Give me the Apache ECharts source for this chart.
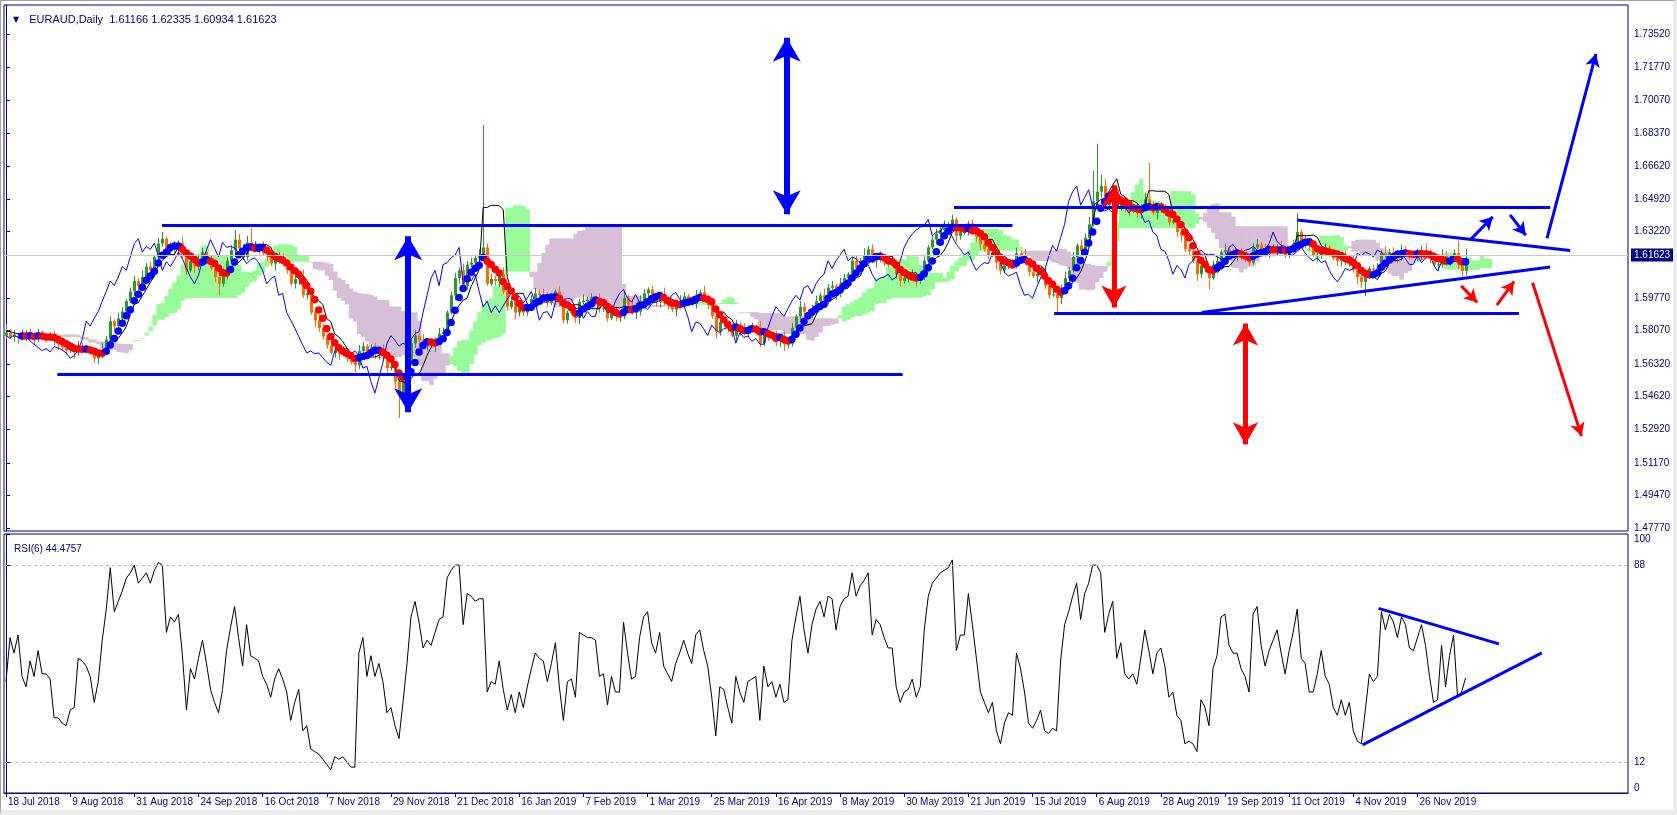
<!DOCTYPE html>
<html>
<head>
<meta charset="utf-8">
<script src="https://cdn.jsdelivr.net/npm/echarts@6/dist/echarts.min.js"></script>
<style>
html,body{margin:0;padding:0;background:#ffffff;}
#chart{width:1677px;height:815px;}
#frame{position:absolute;left:0;top:0;width:1672px;height:809px;border-left:1px solid #a0a0a0;border-top:1px solid #a0a0a0;border-right:4px solid #ececec;border-bottom:5px solid #ececec;pointer-events:none;}
</style>
</head>
<body>
<div id="chart"></div>
<div id="frame"></div>
<script>
// ---------------- DATA ----------------
const symbolName = 'EURAUD,Daily';
const headerOHLC = ['1.61166', '1.62335', '1.60934', '1.61623'];
const lastPrice = 1.61623;
const rsiTitle = 'RSI(6) 44.4757';

const dateTickLabels = ['18 Jul 2018','9 Aug 2018','31 Aug 2018','24 Sep 2018','16 Oct 2018','7 Nov 2018','29 Nov 2018','21 Dec 2018','16 Jan 2019','7 Feb 2019','1 Mar 2019','25 Mar 2019','16 Apr 2019','8 May 2019','30 May 2019','21 Jun 2019','15 Jul 2019','6 Aug 2019','28 Aug 2019','19 Sep 2019','11 Oct 2019','4 Nov 2019','26 Nov 2019'];
const dateTickStep = 16;
const priceTickValues = [1.73520,1.71770,1.70070,1.68370,1.66620,1.64920,1.63220,1.59770,1.58070,1.56320,1.54620,1.52920,1.51170,1.49470,1.47770];
const rsiTickValues = [0, 12, 88, 100];
const rsiLevels = [12, 88];

const opens = [
1.5780,1.5795,1.5772,1.5781,1.5768,1.5775,1.5790,1.5779,1.5766,1.5784,
1.5771,1.5763,1.5778,1.5752,1.5735,1.5718,1.5702,1.5712,1.5695,1.5722,
1.5715,1.5705,1.5690,1.5662,1.5675,1.5705,1.5760,1.5855,1.5830,1.5870,
1.5905,1.5960,1.6010,1.6065,1.6040,1.6085,1.6140,1.6120,1.6190,1.6260,
1.6285,1.6215,1.6245,1.6230,1.6262,1.6195,1.6120,1.6165,1.6140,1.6175,
1.6215,1.6180,1.6130,1.6085,1.6050,1.6095,1.6170,1.6225,1.6280,1.6235,
1.6190,1.6265,1.6240,1.6245,1.6238,1.6210,1.6190,1.6155,1.6175,1.6185,
1.6160,1.6120,1.6050,1.6075,1.6090,1.5990,1.6000,1.5900,1.5860,1.5820,
1.5775,1.5730,1.5690,1.5700,1.5685,1.5690,1.5665,1.5640,1.5625,1.5700,
1.5725,1.5690,1.5715,1.5685,1.5700,1.5675,1.5610,1.5620,1.5540,1.5480,
1.5560,1.5640,1.5740,1.5780,1.5755,1.5725,1.5740,1.5730,1.5760,1.5790,
1.5800,1.5900,1.5990,1.6080,1.6120,1.6040,1.6150,1.6160,1.6185,1.6200,
1.6240,1.6050,1.6075,1.6065,1.6100,1.6010,1.5930,1.5960,1.5900,1.5935,
1.5900,1.5935,1.5970,1.6000,1.5990,1.5985,1.5950,1.5975,1.6010,1.5950,
1.5860,1.5900,1.5905,1.5870,1.5955,1.5960,1.5965,1.5975,1.5970,1.5920,
1.5925,1.5870,1.5905,1.5880,1.5880,1.5975,1.5940,1.5900,1.5905,1.5960,
1.6000,1.6020,1.5975,1.5955,1.5995,1.5950,1.5935,1.5915,1.5945,1.5960,
1.5985,1.5965,1.5945,1.5990,1.6005,1.5970,1.5940,1.5880,1.5800,1.5850,
1.5845,1.5815,1.5780,1.5835,1.5810,1.5795,1.5815,1.5822,1.5825,1.5740,
1.5795,1.5770,1.5778,1.5750,1.5765,1.5735,1.5735,1.5820,1.5880,1.5930,
1.5905,1.5880,1.5920,1.5960,1.5990,1.5965,1.6030,1.6040,1.6000,1.6050,
1.6080,1.6100,1.6170,1.6130,1.6170,1.6200,1.6230,1.6170,1.6190,1.6180,
1.6160,1.6150,1.6150,1.6100,1.6065,1.6080,1.6085,1.6100,1.6070,1.6085,
1.6170,1.6240,1.6280,1.6310,1.6330,1.6345,1.6355,1.6385,1.6300,1.6320,
1.6320,1.6365,1.6330,1.6295,1.6255,1.6230,1.6200,1.6215,1.6160,1.6120,
1.6145,1.6160,1.6155,1.6210,1.6195,1.6160,1.6110,1.6090,1.6100,1.6110,
1.6040,1.5990,1.5995,1.5975,1.6030,1.6080,1.6120,1.6190,1.6250,1.6220,
1.6290,1.6360,1.6480,1.6530,1.6560,1.6460,1.6500,1.6540,1.6450,1.6475,
1.6440,1.6430,1.6440,1.6420,1.6450,1.6490,1.6455,1.6420,1.6440,1.6445,
1.6420,1.6370,1.6380,1.6320,1.6300,1.6230,1.6220,1.6170,1.6100,1.6145,
1.6125,1.6080,1.6150,1.6170,1.6215,1.6225,1.6205,1.6200,1.6205,1.6190,
1.6180,1.6160,1.6240,1.6255,1.6225,1.6205,1.6225,1.6230,1.6245,1.6225,
1.6200,1.6230,1.6260,1.6320,1.6270,1.6250,1.6245,1.6200,1.6200,1.6220,
1.6240,1.6210,1.6185,1.6170,1.6185,1.6160,1.6170,1.6120,1.6085,1.6060,
1.6090,1.6130,1.6120,1.6130,1.6210,1.6195,1.6215,1.6205,1.6190,1.6225,
1.6215,1.6195,1.6192,1.6205,1.6225,1.6210,1.6180,1.6150,1.6152,1.6200,
1.6160,1.6185,1.6210,1.6150,1.61166
];
const highs = [
1.5840,1.5815,1.5809,1.5796,1.5810,1.5808,1.5815,1.5789,1.5814,1.5806,
1.5783,1.5798,1.5806,1.5767,1.5770,1.5736,1.5737,1.5722,1.5752,1.5744,
1.5727,1.5725,1.5718,1.5690,1.5740,1.5778,1.5880,1.5865,1.5900,1.5927,
1.5972,1.6030,1.6093,1.6080,1.6120,1.6158,1.6165,1.6200,1.6290,1.6320,
1.6297,1.6265,1.6273,1.6277,1.6297,1.6213,1.6190,1.6175,1.6205,1.6237,
1.6227,1.6200,1.6158,1.6100,1.6130,1.6188,1.6250,1.6330,1.6310,1.6257,
1.6300,1.6340,1.6273,1.6260,1.6273,1.6228,1.6215,1.6185,1.6215,1.6207,
1.6172,1.6140,1.6103,1.6105,1.6125,1.6018,1.6025,1.5910,1.5890,1.5842,
1.5787,1.5750,1.5728,1.5715,1.5725,1.5708,1.5690,1.5650,1.5730,1.5747,
1.5737,1.5735,1.5743,1.5715,1.5735,1.5693,1.5645,1.5630,1.5570,1.5582,
1.5652,1.5760,1.5808,1.5795,1.5790,1.5758,1.5765,1.5770,1.5820,1.5822,
1.5912,1.6010,1.6108,1.6135,1.6155,1.6168,1.6185,1.6195,1.6230,1.6878,
1.6260,1.6103,1.6090,1.6115,1.6135,1.6028,1.5985,1.5970,1.5965,1.5957,
1.5947,1.5990,1.6028,1.6015,1.6025,1.6003,1.6000,1.6020,1.6040,1.5972,
1.5912,1.5925,1.5933,1.5970,1.5995,1.5983,1.6000,1.5985,1.6000,1.5947,
1.5937,1.5925,1.5933,1.5895,1.6010,1.5993,1.5965,1.5915,1.5990,1.6022,
1.6032,1.6040,1.6003,1.6010,1.6030,1.5968,1.5960,1.5955,1.5990,1.6007,
1.5997,1.5985,1.6018,1.6020,1.6040,1.5988,1.5965,1.5890,1.5880,1.5872,
1.5857,1.5835,1.5863,1.5850,1.5845,1.5833,1.5847,1.5835,1.5855,1.5817,
1.5807,1.5798,1.5806,1.5780,1.5800,1.5753,1.5845,1.5890,1.5960,1.5952,
1.5917,1.5940,1.5988,1.6005,1.6025,1.6048,1.6065,1.6050,1.6080,1.6102,
1.6112,1.6190,1.6198,1.6185,1.6235,1.6248,1.6255,1.6200,1.6220,1.6202,
1.6172,1.6170,1.6178,1.6115,1.6115,1.6103,1.6125,1.6110,1.6115,1.6192,
1.6252,1.6300,1.6338,1.6345,1.6380,1.6373,1.6410,1.6395,1.6350,1.6342,
1.6377,1.6385,1.6358,1.6310,1.6290,1.6248,1.6240,1.6225,1.6190,1.6167,
1.6172,1.6180,1.6238,1.6225,1.6230,1.6178,1.6135,1.6110,1.6140,1.6132,
1.6052,1.6015,1.6023,1.6045,1.6115,1.6138,1.6215,1.6260,1.6280,1.6312,
1.6400,1.6640,1.6780,1.6620,1.6595,1.6525,1.6565,1.6550,1.6505,1.6497,
1.6452,1.6460,1.6468,1.6465,1.6525,1.6680,1.6480,1.6450,1.6475,1.6467,
1.6432,1.6400,1.6408,1.6335,1.6335,1.6248,1.6245,1.6180,1.6175,1.6167,
1.6137,1.6170,1.6198,1.6230,1.6260,1.6243,1.6230,1.6215,1.6235,1.6212,
1.6192,1.6260,1.6283,1.6270,1.6260,1.6243,1.6255,1.6255,1.6275,1.6247,
1.6242,1.6280,1.6420,1.6335,1.6305,1.6268,1.6270,1.6210,1.6250,1.6262,
1.6252,1.6230,1.6213,1.6200,1.6220,1.6188,1.6195,1.6130,1.6115,1.6112,
1.6142,1.6150,1.6158,1.6225,1.6245,1.6233,1.6240,1.6215,1.6255,1.6247,
1.6227,1.6215,1.6233,1.6250,1.6260,1.6228,1.6205,1.6162,1.6230,1.6222,
1.6197,1.6230,1.6275,1.6165,1.62335
];
const lows = [
1.5762,1.5762,1.5747,1.5738,1.5754,1.5753,1.5767,1.5731,1.5746,1.5755,
1.5745,1.5753,1.5727,1.5705,1.5704,1.5680,1.5690,1.5660,1.5675,1.5699,
1.5687,1.5680,1.5637,1.5632,1.5661,1.5683,1.5748,1.5795,1.5810,1.5854,
1.5887,1.5950,1.5985,1.6010,1.6026,1.6063,1.6108,1.6085,1.6170,1.6244,
1.6197,1.6205,1.6205,1.6200,1.6181,1.6098,1.6108,1.6105,1.6120,1.6159,
1.6162,1.6120,1.6060,1.5990,1.6036,1.6073,1.6158,1.6190,1.6215,1.6174,
1.6172,1.6230,1.6215,1.6208,1.6196,1.6168,1.6143,1.6120,1.6155,1.6144,
1.6102,1.6040,1.6025,1.6045,1.5976,1.5968,1.5888,1.5825,1.5800,1.5759,
1.5712,1.5680,1.5665,1.5655,1.5671,1.5643,1.5628,1.5590,1.5605,1.5684,
1.5672,1.5680,1.5660,1.5655,1.5661,1.5588,1.5598,1.5505,1.5350,1.5440,
1.5542,1.5630,1.5715,1.5725,1.5711,1.5703,1.5718,1.5695,1.5740,1.5774,
1.5782,1.5890,1.5965,1.6050,1.6026,1.6018,1.6138,1.6125,1.6165,1.6184,
1.6040,1.6040,1.6040,1.6035,1.5996,1.5908,1.5918,1.5865,1.5880,1.5884,
1.5882,1.5925,1.5945,1.5960,1.5971,1.5928,1.5938,1.5940,1.5930,1.5844,
1.5842,1.5890,1.5845,1.5840,1.5941,1.5938,1.5953,1.5935,1.5900,1.5904,
1.5852,1.5860,1.5855,1.5850,1.5866,1.5918,1.5888,1.5865,1.5885,1.5944,
1.5982,1.5965,1.5930,1.5925,1.5936,1.5913,1.5903,1.5880,1.5925,1.5944,
1.5947,1.5935,1.5920,1.5960,1.5956,1.5918,1.5868,1.5765,1.5780,1.5829,
1.5797,1.5770,1.5755,1.5780,1.5781,1.5773,1.5803,1.5787,1.5720,1.5724,
1.5752,1.5760,1.5725,1.5720,1.5700,1.5713,1.5723,1.5785,1.5860,1.5889,
1.5862,1.5870,1.5895,1.5930,1.5951,1.5943,1.6018,1.5965,1.5980,1.6034,
1.6062,1.6090,1.6105,1.6100,1.6156,1.6178,1.6158,1.6135,1.6160,1.6144,
1.6132,1.6140,1.6075,1.6035,1.6051,1.6058,1.6073,1.6035,1.6050,1.6069,
1.6152,1.6230,1.6255,1.6280,1.6316,1.6323,1.6343,1.6265,1.6280,1.6304,
1.6302,1.6320,1.6270,1.6225,1.6216,1.6178,1.6188,1.6125,1.6100,1.6104,
1.6127,1.6145,1.6130,1.6165,1.6146,1.6088,1.6078,1.6055,1.6080,1.6024,
1.5972,1.5980,1.5900,1.5945,1.6016,1.6058,1.6108,1.6155,1.6200,1.6204,
1.6280,1.6350,1.6455,1.6500,1.6446,1.6438,1.6488,1.6415,1.6430,1.6424,
1.6402,1.6420,1.6395,1.6390,1.6436,1.6433,1.6408,1.6385,1.6420,1.6404,
1.6352,1.6360,1.6295,1.6270,1.6216,1.6198,1.6158,1.6065,1.6080,1.6109,
1.6020,1.6070,1.6125,1.6140,1.6201,1.6183,1.6188,1.6165,1.6170,1.6164,
1.6142,1.6150,1.6230,1.6195,1.6191,1.6183,1.6213,1.6195,1.6205,1.6184,
1.6182,1.6220,1.6235,1.6240,1.6236,1.6223,1.6188,1.6165,1.6180,1.6204,
1.6192,1.6172,1.6145,1.6140,1.6146,1.6138,1.6108,1.6050,1.6030,1.5985,
1.6076,1.6095,1.6095,1.6100,1.6181,1.6173,1.6193,1.6155,1.6170,1.6199,
1.6177,1.6182,1.6167,1.6175,1.6196,1.6158,1.6138,1.6115,1.6132,1.6144,
1.6142,1.6175,1.6125,1.6087,1.60934
];
const closes = [
1.5795,1.5772,1.5781,1.5768,1.5775,1.5790,1.5779,1.5766,1.5784,1.5771,
1.5763,1.5778,1.5752,1.5735,1.5718,1.5702,1.5712,1.5695,1.5722,1.5715,
1.5705,1.5690,1.5662,1.5675,1.5705,1.5760,1.5855,1.5830,1.5870,1.5905,
1.5960,1.6010,1.6065,1.6040,1.6085,1.6140,1.6120,1.6190,1.6260,1.6285,
1.6215,1.6245,1.6230,1.6262,1.6195,1.6120,1.6165,1.6140,1.6175,1.6215,
1.6180,1.6130,1.6085,1.6050,1.6095,1.6170,1.6225,1.6280,1.6235,1.6190,
1.6265,1.6240,1.6245,1.6238,1.6210,1.6190,1.6155,1.6175,1.6185,1.6160,
1.6120,1.6050,1.6075,1.6090,1.5990,1.6000,1.5900,1.5860,1.5820,1.5775,
1.5730,1.5690,1.5700,1.5685,1.5690,1.5665,1.5640,1.5625,1.5700,1.5725,
1.5690,1.5715,1.5685,1.5700,1.5675,1.5610,1.5620,1.5540,1.5480,1.5560,
1.5640,1.5740,1.5780,1.5755,1.5725,1.5740,1.5730,1.5760,1.5790,1.5800,
1.5900,1.5990,1.6080,1.6120,1.6040,1.6150,1.6160,1.6185,1.6200,1.6240,
1.6050,1.6075,1.6065,1.6100,1.6010,1.5930,1.5960,1.5900,1.5935,1.5900,
1.5935,1.5970,1.6000,1.5990,1.5985,1.5950,1.5975,1.6010,1.5950,1.5860,
1.5900,1.5905,1.5870,1.5955,1.5960,1.5965,1.5975,1.5970,1.5920,1.5925,
1.5870,1.5905,1.5880,1.5880,1.5975,1.5940,1.5900,1.5905,1.5960,1.6000,
1.6020,1.5975,1.5955,1.5995,1.5950,1.5935,1.5915,1.5945,1.5960,1.5985,
1.5965,1.5945,1.5990,1.6005,1.5970,1.5940,1.5880,1.5800,1.5850,1.5845,
1.5815,1.5780,1.5835,1.5810,1.5795,1.5815,1.5822,1.5825,1.5740,1.5795,
1.5770,1.5778,1.5750,1.5765,1.5735,1.5735,1.5820,1.5880,1.5930,1.5905,
1.5880,1.5920,1.5960,1.5990,1.5965,1.6030,1.6040,1.6000,1.6050,1.6080,
1.6100,1.6170,1.6130,1.6170,1.6200,1.6230,1.6170,1.6190,1.6180,1.6160,
1.6150,1.6150,1.6100,1.6065,1.6080,1.6085,1.6100,1.6070,1.6085,1.6170,
1.6240,1.6280,1.6310,1.6330,1.6345,1.6355,1.6385,1.6300,1.6320,1.6320,
1.6365,1.6330,1.6295,1.6255,1.6230,1.6200,1.6215,1.6160,1.6120,1.6145,
1.6160,1.6155,1.6210,1.6195,1.6160,1.6110,1.6090,1.6100,1.6110,1.6040,
1.5990,1.5995,1.5975,1.6030,1.6080,1.6120,1.6190,1.6250,1.6220,1.6290,
1.6360,1.6480,1.6530,1.6560,1.6460,1.6500,1.6540,1.6450,1.6475,1.6440,
1.6430,1.6440,1.6420,1.6450,1.6490,1.6455,1.6420,1.6440,1.6445,1.6420,
1.6370,1.6380,1.6320,1.6300,1.6230,1.6220,1.6170,1.6100,1.6145,1.6125,
1.6080,1.6150,1.6170,1.6215,1.6225,1.6205,1.6200,1.6205,1.6190,1.6180,
1.6160,1.6240,1.6255,1.6225,1.6205,1.6225,1.6230,1.6245,1.6225,1.6200,
1.6230,1.6260,1.6320,1.6270,1.6250,1.6245,1.6200,1.6200,1.6220,1.6240,
1.6210,1.6185,1.6170,1.6185,1.6160,1.6170,1.6120,1.6085,1.6060,1.6090,
1.6130,1.6120,1.6130,1.6210,1.6195,1.6215,1.6205,1.6190,1.6225,1.6215,
1.6195,1.6192,1.6205,1.6225,1.6210,1.6180,1.6150,1.6152,1.6200,1.6160,
1.6185,1.6210,1.6150,1.61166,1.61623
];
const rsiValues = [
43,60,54,61,45,41,51,45,55,46,
46,44,29,29,27,26,32,33,52,51,
49,45,35,43,59,71,87,70,74,78,
83,85,88,81,83,85,81,86,89,88,
62,68,66,69,53,32,48,44,52,59,
50,40,35,31,40,55,64,72,60,49,
65,53,52,51,45,42,37,44,48,44,
39,28,35,40,24,26,17,16,15,13,
11,9,14,13,14,12,10,10,54,60,
45,53,45,50,43,31,33,26,21,35,
50,68,74,66,56,59,57,62,67,68,
83,86,88,88,65,77,76,74,75,75,
39,43,42,51,40,32,38,31,39,33,
41,48,54,52,51,43,50,58,41,28,
43,44,37,62,61,60,60,59,45,46,
34,45,39,39,66,54,44,45,60,68,
70,58,54,62,49,46,43,50,54,59,
54,50,61,63,55,49,37,22,41,40,
33,27,45,39,35,43,44,45,28,49,
41,43,37,42,35,36,59,68,76,63,
54,65,71,74,68,76,75,63,72,75,
76,85,76,80,82,85,61,67,65,60,
56,56,41,35,39,40,44,37,41,63,
76,81,83,85,86,87,90,55,61,61,
77,65,52,39,35,31,35,24,19,27,
31,30,54,48,39,27,25,28,32,24,
23,25,24,51,65,70,76,81,67,77,
81,88,88,85,62,69,74,52,58,46,
44,46,42,52,63,55,46,54,56,49,
37,39,30,28,19,20,19,16,36,33,
26,48,53,68,69,57,54,54,48,45,
39,69,72,57,49,55,59,63,54,46,
55,62,71,52,50,39,39,46,55,45,
42,33,30,36,30,35,24,20,19,32,
46,43,45,70,63,69,66,60,68,65,
56,55,60,65,57,45,35,36,57,41,
53,61,37,39,44.4757
];

// Indicator settings (Ichimoku as set on the chart, coloured dot MA)
const tenkanPeriod = 6, kijunPeriod = 6, senkouBPeriod = 29, dotMaPeriod = 5;
const totalSlots = 405; // bars + chart shift space

// Hand-drawn objects, in (bar index, price) / (bar index, RSI)
const blueTrendLines = [
  [12.8, 1.5577, 223.6, 1.5577],
  [38.9, 1.6355, 251.0, 1.6355],
  [236.4, 1.6450, 385.1, 1.6450],
  [261.4, 1.5895, 377.3, 1.5895],
  [298.2, 1.5900, 385.1, 1.6137],
  [322.0, 1.6383, 390.1, 1.6224]
];
const blueDoubleArrows = [[100.3, 1.6298, 1.5380], [194.7, 1.7333, 1.6412]];
const redDoubleArrows = [[276.3, 1.6563, 1.5927], [309.1, 1.5843, 1.5213]];
const blueArrows = [[365.4, 1.6284, 370.8, 1.6399], [375.1, 1.6409, 379.0, 1.6303], [384.3, 1.6287, 396.5, 1.7249]];
const redArrows = [[362.9, 1.6039, 366.9, 1.5953], [371.8, 1.5939, 376.1, 1.6062], [380.7, 1.6056, 392.9, 1.5257]];
const rsiTrendLines = [[342.3, 71.3, 372.3, 57.6], [338.3, 18.6, 383.0, 54.1]];

// ---------------- STYLE ----------------
const NAVY = '#000080';
const FONT = "'Liberation Sans', Arial, sans-serif";
const BULL = '#2f962f', BEAR = '#ff6a00';
const CLOUD_UP = '#98fb98', CLOUD_DOWN = '#d8bfd8';
const BLUE = '#0000ff', RED = '#ff0000';

// ---------------- INDICATORS ----------------
const n = closes.length;
function midHL(j, p) {
  let hh = -Infinity, ll = Infinity;
  for (let k = Math.max(0, j - p + 1); k <= j; k++) { hh = Math.max(hh, highs[k]); ll = Math.min(ll, lows[k]); }
  return (hh + ll) / 2;
}
const tenkan = [], cloud = [], chikou = [], dots = [], candles = [];
for (let j = 0; j < n; j++) {
  const t = midHL(j, tenkanPeriod), k = midHL(j, kijunPeriod), b = midHL(j, senkouBPeriod);
  tenkan.push([j, t]);
  cloud.push([j + kijunPeriod, (t + k) / 2, b]);
  if (j - kijunPeriod >= 0) chikou.push([j - kijunPeriod, closes[j]]);
  candles.push([j, opens[j], closes[j], lows[j], highs[j]]);
}
let prevMa = null;
for (let j = dotMaPeriod - 1; j < n; j++) {
  let s = 0; for (let k = j - dotMaPeriod + 1; k <= j; k++) s += closes[k];
  const ma = s / dotMaPeriod;
  const up = prevMa === null ? true : ma >= prevMa;
  dots.push([j, ma, up ? 1 : 0]);
  prevMa = ma;
}

// ---------------- RENDERERS ----------------
function renderCloud(params, api) {
  const x = api.value(0), a = api.value(1), b = api.value(2);
  const pa = api.coord([x, a]), pb = api.coord([x, b]);
  const w = api.size([1, 0])[0];
  return { type: 'rect', shape: { x: pa[0] - w / 2, y: Math.min(pa[1], pb[1]), width: w + 0.6, height: Math.max(1, Math.abs(pa[1] - pb[1])) },
    style: { fill: a >= b ? CLOUD_UP : CLOUD_DOWN } };
}
function renderCandle(params, api) {
  const x = api.value(0), o = api.value(1), c = api.value(2), l = api.value(3), h = api.value(4);
  const pO = api.coord([x, o]), pC = api.coord([x, c]);
  const pL = api.coord([x, Math.min(l, o, c)]), pH = api.coord([x, Math.max(h, o, c)]);
  const cx = Math.round(pO[0]) + 0.5;
  const col = c >= o ? BULL : BEAR;
  const top = Math.min(pO[1], pC[1]), bot = Math.max(pO[1], pC[1]);
  return { type: 'group', children: [
    { type: 'line', shape: { x1: cx, y1: pH[1], x2: cx, y2: pL[1] }, style: { stroke: col, lineWidth: 1 } },
    { type: 'rect', shape: { x: cx - 1.5, y: top, width: 3, height: Math.max(1, bot - top) }, style: { fill: col } }
  ] };
}

// ---------------- ANNOTATIONS ----------------
const solid = (color, width) => ({ color: color, width: width, type: 'solid' });
const annot = [];
blueTrendLines.forEach(l => annot.push([{ coord: [l[0], l[1]], symbol: 'none', lineStyle: solid(BLUE, 3) }, { coord: [l[2], l[3]], symbol: 'none' }]));
blueDoubleArrows.forEach(a => annot.push([{ coord: [a[0], a[1]], symbol: 'arrow', symbolSize: [21, 24], lineStyle: solid(BLUE, 6), itemStyle: { color: BLUE } }, { coord: [a[0], a[2]], symbol: 'arrow', symbolSize: [21, 24], itemStyle: { color: BLUE } }]));
redDoubleArrows.forEach(a => annot.push([{ coord: [a[0], a[1]], symbol: 'arrow', symbolSize: [19, 22], lineStyle: solid(RED, 5), itemStyle: { color: RED } }, { coord: [a[0], a[2]], symbol: 'arrow', symbolSize: [19, 22], itemStyle: { color: RED } }]));
blueArrows.forEach(a => annot.push([{ coord: [a[0], a[1]], symbol: 'none', lineStyle: solid(BLUE, 3) }, { coord: [a[2], a[3]], symbol: 'arrow', symbolSize: [11, 13], itemStyle: { color: BLUE } }]));
redArrows.forEach(a => annot.push([{ coord: [a[0], a[1]], symbol: 'none', lineStyle: solid(RED, 3) }, { coord: [a[2], a[3]], symbol: 'arrow', symbolSize: [11, 13], itemStyle: { color: RED } }]));

const rsiMarks = rsiLevels.map(v => ({ yAxis: v, lineStyle: { color: '#bdbdbd', width: 1, type: [3, 3] } }));
rsiTrendLines.forEach(l => rsiMarks.push([{ coord: [l[0], l[1]], lineStyle: solid(BLUE, 3) }, { coord: [l[2], l[3]] }]));

// ---------------- CHART ----------------
const chart = echarts.init(document.getElementById('chart'), null, { renderer: 'canvas' });
const xCommon = { type: 'value', min: -0.5, max: totalSlots - 0.5, splitLine: { show: false } };
const axisFont = { color: NAVY, fontSize: 10, fontFamily: FONT, fontWeight: 'normal' };
const option = {
  animation: false,
  backgroundColor: '#ffffff',
  textStyle: { fontFamily: FONT },
  title: [
    { left: 8, top: 6, text: '{a|▼}  {b|' + symbolName + '  ' + headerOHLC.join(' ') + '}',
      textStyle: { fontWeight: 'normal', rich: { a: { fontSize: 8, color: NAVY, fontFamily: 'DejaVu Sans', fontWeight: 'normal' }, b: { fontSize: 11, color: NAVY, fontFamily: FONT, fontWeight: 'normal' } } } },
    { left: 9, top: 539, text: rsiTitle, textStyle: { fontSize: 10, color: NAVY, fontWeight: 'normal', fontFamily: FONT } }
  ],
  grid: [
    { left: 4, right: 49, top: 5, height: 526, show: true, borderColor: NAVY, borderWidth: 1, backgroundColor: 'transparent', outerBoundsMode: 'none' },
    { left: 4, right: 49, top: 534, height: 259, show: true, borderColor: NAVY, borderWidth: 1, backgroundColor: 'transparent', outerBoundsMode: 'none' }
  ],
  xAxis: [
    Object.assign({ gridIndex: 0, axisLine: { show: false }, axisTick: { show: false }, axisLabel: { show: false } }, xCommon),
    Object.assign({ gridIndex: 1, position: 'bottom',
      axisLine: { show: true, onZero: false, lineStyle: { color: NAVY, width: 1 } },
      axisTick: { show: true, length: 4, lineStyle: { color: NAVY }, customValues: dateTickLabels.map((_, k) => k * dateTickStep) },
      axisLabel: Object.assign({ show: true, align: 'left', margin: 4, padding: [0, 0, 0, 2],
        customValues: dateTickLabels.map((_, k) => k * dateTickStep),
        formatter: v => dateTickLabels[Math.round(v / dateTickStep)] || '' }, axisFont) }, xCommon)
  ],
  yAxis: [
    { gridIndex: 0, type: 'value', position: 'right', min: 1.47614, max: 1.75032, scale: true,
      axisLine: { show: true, lineStyle: { color: NAVY } },
      axisTick: { show: true, length: 4, lineStyle: { color: NAVY }, customValues: priceTickValues },
      axisLabel: Object.assign({ show: true, margin: 6, customValues: priceTickValues, formatter: v => v.toFixed(5) }, axisFont),
      splitLine: { show: false } },
    { gridIndex: 1, type: 'value', position: 'right', min: 0, max: 100,
      axisLine: { show: true, lineStyle: { color: NAVY } },
      axisTick: { show: true, length: 4, lineStyle: { color: NAVY }, customValues: rsiTickValues },
      axisLabel: Object.assign({ show: true, margin: 6, customValues: rsiTickValues, formatter: v => String(v),
        verticalAlignMaxLabel: 'top', verticalAlignMinLabel: 'bottom' }, axisFont),
      splitLine: { show: false } }
  ],
  series: [
    { type: 'line', name: 'lastPrice', xAxisIndex: 0, yAxisIndex: 0, data: [[n - 1, lastPrice]], showSymbol: false, lineStyle: { opacity: 0 }, z: 0, silent: true,
      markLine: { silent: true, symbol: 'none', animation: false,
        data: [{ yAxis: lastPrice, lineStyle: { color: '#c8c8c8', width: 1, type: 'solid' },
          label: { show: true, position: 'end', distance: 3, formatter: () => lastPrice.toFixed(5), color: '#ffffff', backgroundColor: NAVY, fontSize: 10, fontFamily: FONT, padding: [2, 3, 1, 3] } }] } },
    { type: 'custom', name: 'cloud', xAxisIndex: 0, yAxisIndex: 0, renderItem: renderCloud, data: cloud, encode: { x: 0, y: [1, 2] }, clip: true, z: 1, silent: true },
    { type: 'custom', name: 'candles', xAxisIndex: 0, yAxisIndex: 0, renderItem: renderCandle, data: candles, encode: { x: 0, y: [1, 2, 3, 4] }, clip: true, z: 2, silent: true },
    { type: 'line', name: 'tenkan', xAxisIndex: 0, yAxisIndex: 0, data: tenkan, showSymbol: false, lineStyle: { color: '#000000', width: 1 }, z: 3, silent: true },
    { type: 'line', name: 'chikou', xAxisIndex: 0, yAxisIndex: 0, data: chikou, showSymbol: false, lineStyle: { color: BLUE, width: 1 }, z: 3, silent: true },
    { type: 'scatter', name: 'dots', xAxisIndex: 0, yAxisIndex: 0, data: dots, symbolSize: 7.5, z: 4, silent: true,
      itemStyle: { opacity: 1, color: p => (p.data[2] ? BLUE : RED) } },
    { type: 'line', name: 'drawings', xAxisIndex: 0, yAxisIndex: 0, data: [[0, lastPrice]], showSymbol: false, lineStyle: { opacity: 0 }, z: 6, silent: true,
      markLine: { silent: true, animation: false, label: { show: false }, lineStyle: { type: 'solid' }, emphasis: { disabled: true }, data: annot } },
    { type: 'line', name: 'rsi', xAxisIndex: 1, yAxisIndex: 1, data: rsiValues.map((v, i) => [i, v]), showSymbol: false, lineStyle: { color: '#000000', width: 1 }, z: 3, silent: true,
      markLine: { silent: true, animation: false, symbol: 'none', label: { show: false }, emphasis: { disabled: true }, data: rsiMarks } }
  ]
};
chart.setOption(option);
</script>
</body>
</html>
